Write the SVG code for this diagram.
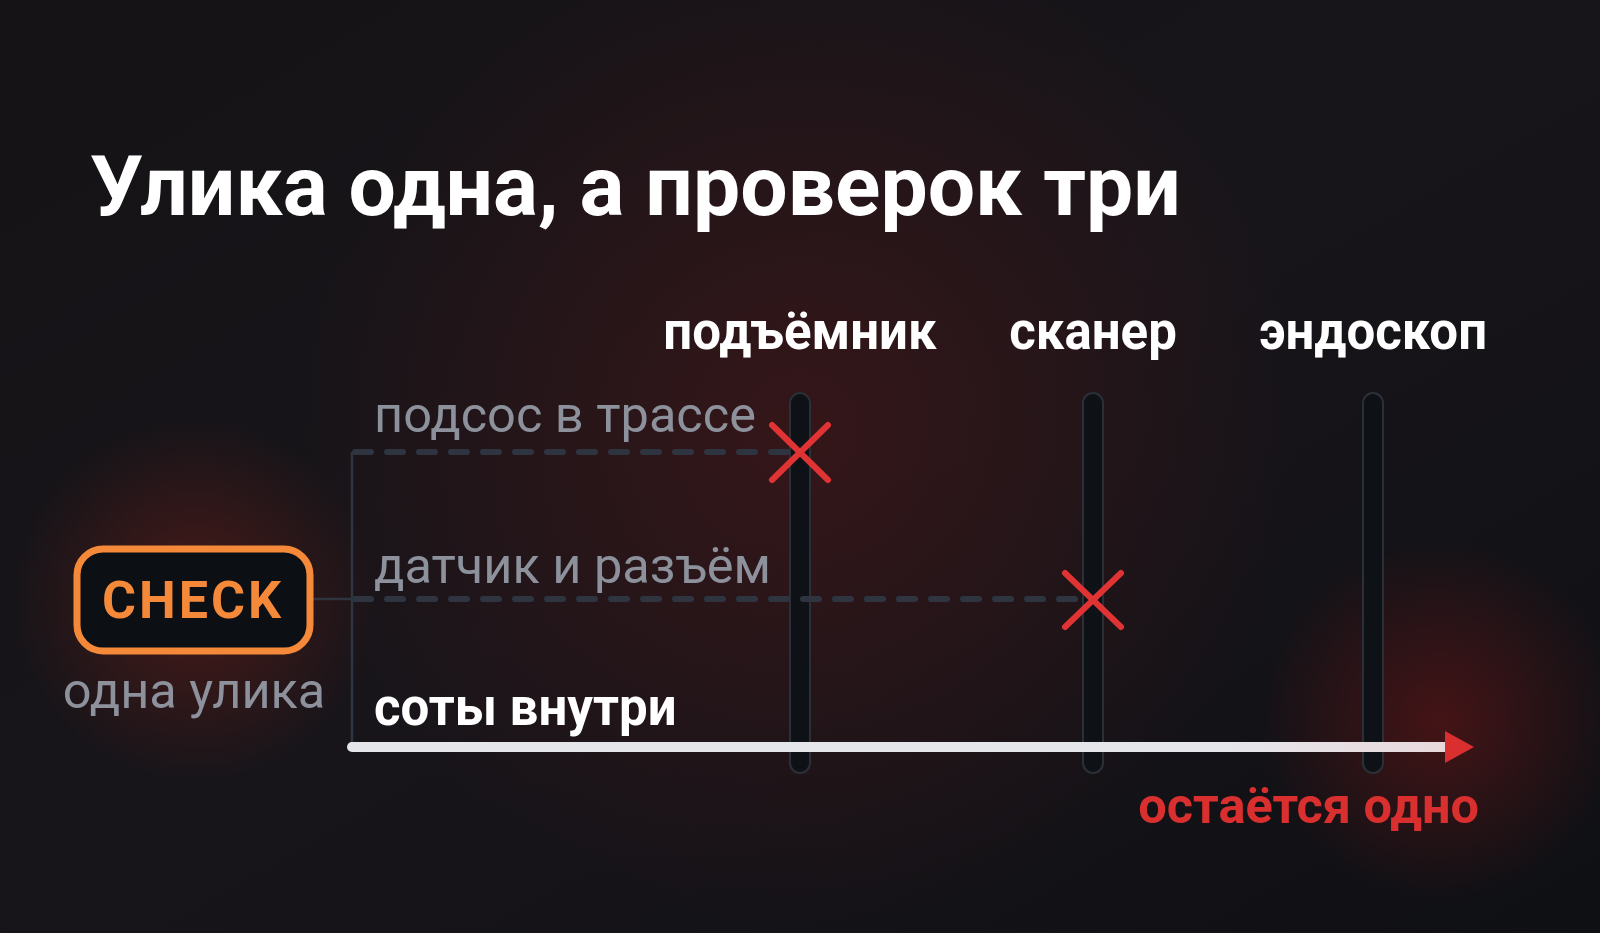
<svg xmlns="http://www.w3.org/2000/svg" width="1600" height="933" viewBox="0 0 1600 933">
  <defs>
    <radialGradient id="glowCenter" cx="800" cy="430" r="500" gradientUnits="userSpaceOnUse">
      <stop offset="0" stop-color="#3a1618" stop-opacity="0.85"/>
      <stop offset="1" stop-color="#3a1618" stop-opacity="0"/>
    </radialGradient>
    <radialGradient id="glowCheck" cx="195" cy="600" r="180" gradientUnits="userSpaceOnUse">
      <stop offset="0" stop-color="#5a1c18" stop-opacity="0.75"/>
      <stop offset="1" stop-color="#5a1c18" stop-opacity="0"/>
    </radialGradient>
    <radialGradient id="glowEnd" cx="1440" cy="720" r="180" gradientUnits="userSpaceOnUse">
      <stop offset="0" stop-color="#4a1416" stop-opacity="0.9"/>
      <stop offset="1" stop-color="#4a1416" stop-opacity="0"/>
    </radialGradient>
    <linearGradient id="bg" x1="0" y1="0" x2="1" y2="1">
      <stop offset="0" stop-color="#151316"/>
      <stop offset="0.5" stop-color="#18151a"/>
      <stop offset="1" stop-color="#0f1014"/>
    </linearGradient>
    <linearGradient id="arrowGrad" x1="352" y1="0" x2="1447" y2="0" gradientUnits="userSpaceOnUse">
      <stop offset="0" stop-color="#e5e6ea"/>
      <stop offset="0.8" stop-color="#e5e6ea"/>
      <stop offset="1" stop-color="#e8d8dc"/>
    </linearGradient>
    <style>
      .title { font-family: Roboto, "Liberation Sans", sans-serif; font-weight: 700; font-size: 84px; fill: #ffffff; }
      .col { font-family: Roboto, "Liberation Sans", sans-serif; font-weight: 700; font-size: 51px; fill: #ffffff; text-anchor: middle; }
      .muted { font-family: Roboto, "Liberation Sans", sans-serif; font-weight: 400; font-size: 50.5px; fill: #8c919c; }
      .strong { font-family: Roboto, "Liberation Sans", sans-serif; font-weight: 700; font-size: 51px; fill: #ffffff; }
      .red { font-family: Roboto, "Liberation Sans", sans-serif; font-weight: 700; font-size: 50.5px; fill: #d92f2f; }
      .track { fill: #0e1116; stroke: #2b3038; stroke-width: 2; }
      .dash { fill: none; stroke: #2e3540; stroke-width: 6; stroke-dasharray: 16 16; stroke-linecap: round; }
      .thin { fill: none; stroke: #2e3540; stroke-width: 2.5; }
      .cross { fill: none; stroke: #e03333; stroke-width: 6; stroke-linecap: round; }
    </style>
  </defs>

  <rect x="0" y="0" width="1600" height="933" fill="url(#bg)"/>
  <rect x="0" y="0" width="1600" height="933" fill="url(#glowCenter)"/>
  <rect x="0" y="0" width="1600" height="933" fill="url(#glowCheck)"/>
  <rect x="0" y="0" width="1600" height="933" fill="url(#glowEnd)"/>

  <text class="title" x="90" y="215">Улика одна, а проверок три</text>

  <g id="col-lift">
    <text class="col" x="800" y="349">подъёмник</text>
    <rect class="track" x="790" y="393" width="20" height="380" rx="10"/>
  </g>
  <g id="col-scanner">
    <text class="col" x="1093" y="349">сканер</text>
    <rect class="track" x="1083" y="393" width="20" height="380" rx="10"/>
  </g>
  <g id="col-endoscope">
    <text class="col" x="1373" y="349">эндоскоп</text>
    <rect class="track" x="1363" y="393" width="20" height="380" rx="10"/>
  </g>

  <g id="connectors">
    <line class="thin" x1="352" y1="452" x2="352" y2="746"/>
    <line class="thin" x1="312" y1="599" x2="352" y2="599"/>
    <line class="dash" x1="355" y1="452" x2="790" y2="452"/>
    <line class="dash" x1="355" y1="599" x2="1080" y2="599"/>
    <line x1="352" y1="747" x2="1447" y2="747" stroke="url(#arrowGrad)" stroke-width="10" stroke-linecap="round"/>
    <polygon points="1445,731 1474,747 1445,763" fill="#d92f2f"/>
  </g>

  <g id="path-leak">
    <text class="muted" x="374" y="432">подсос в трассе</text>
    <path class="cross" d="M772,425 L828,480 M828,425 L772,480"/>
  </g>
  <g id="path-sensor">
    <text class="muted" x="374" y="583">датчик и разъём</text>
    <path class="cross" d="M1065,573 L1121,627 M1121,573 L1065,627"/>
  </g>
  <g id="path-honeycomb">
    <text class="strong" x="374" y="725">соты внутри</text>
  </g>

  <g id="check">
    <rect x="77" y="549" width="233" height="102" rx="26" fill="#0c0f13" stroke="#f5893a" stroke-width="7"/>
    <text x="193" y="618" font-family="Roboto, 'Liberation Sans', sans-serif" font-weight="700" font-size="52" fill="#f5893a" text-anchor="middle" letter-spacing="3">CHECK</text>
    <text class="muted" x="194" y="708" text-anchor="middle" font-size="51">одна улика</text>
  </g>

  <g id="result">
    <text class="red" x="1479" y="823" text-anchor="end">остаётся одно</text>
  </g>
</svg>
